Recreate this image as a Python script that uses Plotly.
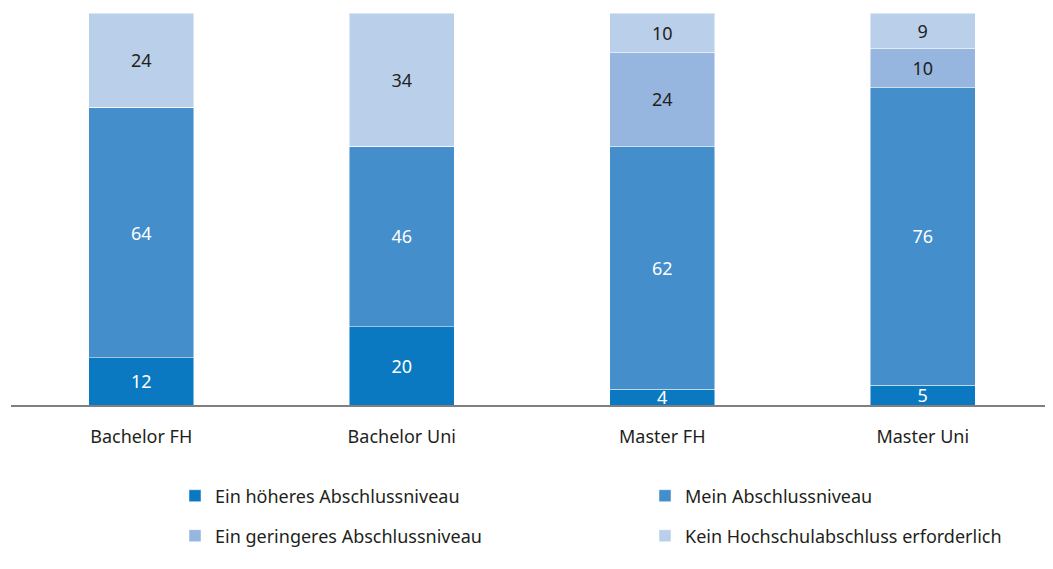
import plotly.graph_objects as go

categories = ["Bachelor FH", "Bachelor Uni", "Master FH", "Master Uni"]

hoeher = [12, 20, 4, 5]
mein = [64, 46, 62, 76]
geringer = [0, 0, 24, 10]
kein = [24, 34, 10, 9]

series = [
    ("Ein höheres Abschlussniveau", hoeher, "#0a79c1", "white", "legend"),
    ("Mein Abschlussniveau", mein, "#438ecb", "white", "legend"),
    ("Ein geringeres Abschlussniveau", geringer, "#97b6df", "#231f20", "legend2"),
    ("Kein Hochschulabschluss erforderlich", kein, "#bacfea", "#231f20", "legend2"),
]

font = "Noto Sans"

fig = go.Figure()
for name, vals, color, tcolor, leg in series:
    fig.add_trace(go.Bar(
        x=categories,
        y=vals,
        name=name,
        legend=leg,
        marker=dict(color=color, line=dict(color="rgba(255,255,255,0.6)", width=0.8)),
        text=[str(v) if v else "" for v in vals],
        textposition="inside",
        insidetextanchor="middle",
        textangle=0,
        constraintext="none",
        textfont=dict(color=tcolor, size=18, family=font),
        hoverinfo="x+y+name",
    ))

# the page body adds an 8px offset, so positions below are shifted by it
leg_common = dict(
    orientation="h",
    traceorder="normal",
    xref="container",
    yref="container",
    xanchor="left",
    yanchor="middle",
    entrywidth=425,
    entrywidthmode="pixels",
    font=dict(size=18, family=font, color="#231f20"),
    bgcolor="rgba(0,0,0,0)",
    itemwidth=30,
)

fig.update_layout(
    width=1053,
    height=569,
    barmode="stack",
    bargap=0.597,
    plot_bgcolor="white",
    paper_bgcolor="white",
    margin=dict(l=3, r=8, t=5, b=172, autoexpand=False),
    font=dict(family=font, size=18, color="#231f20"),
    xaxis=dict(
        showline=True,
        linecolor="#808080",
        linewidth=2,
        ticks="outside",
        ticklen=14,
        tickcolor="rgba(0,0,0,0)",
        tickfont=dict(size=18, family=font, color="#231f20"),
        showgrid=False,
    ),
    yaxis=dict(range=[0, 100], visible=False, showgrid=False),
    legend=dict(x=167 / 1053, y=1 - 488 / 569, **leg_common),
    legend2=dict(x=167 / 1053, y=1 - 528 / 569, **leg_common),
)

fig.write_html("out.html")
